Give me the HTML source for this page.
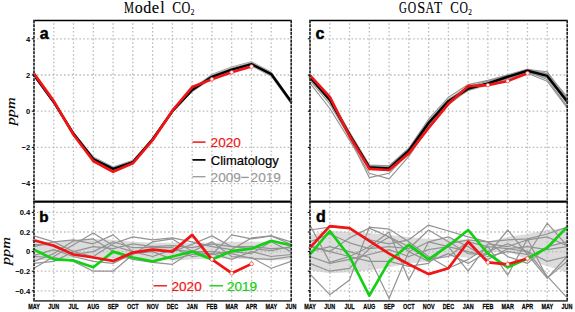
<!DOCTYPE html><html><head><meta charset="utf-8"><style>html,body{margin:0;padding:0;background:#fff;width:575px;height:312px;overflow:hidden}svg{display:block}</style></head><body>
<svg width="575" height="312" viewBox="0 0 575 312">
<rect width="575" height="312" fill="#fff"/>
<polygon fill="#dadada" points="34.0,72.8 53.8,100.0 73.5,131.7 93.3,156.8 113.1,166.8 132.8,160.1 152.6,137.1 172.4,109.0 192.2,87.9 211.9,74.6 231.7,67.4 251.5,62.0 271.2,71.9 291.0,99.4 291.0,103.4 271.2,75.9 251.5,66.0 231.7,71.4 211.9,78.6 192.2,91.8 172.4,113.0 152.6,141.1 132.8,164.1 113.1,170.7 93.3,160.8 73.5,135.6 53.8,104.0 34.0,76.8"/>
<g stroke="#bcbcbc" stroke-width="1.3" stroke-dasharray="1.6 2.255"><line x1="53.8" y1="23.2" x2="53.8" y2="201.7"/><line x1="73.5" y1="23.2" x2="73.5" y2="201.7"/><line x1="93.3" y1="23.2" x2="93.3" y2="201.7"/><line x1="113.1" y1="23.2" x2="113.1" y2="201.7"/><line x1="132.8" y1="23.2" x2="132.8" y2="201.7"/><line x1="152.6" y1="23.2" x2="152.6" y2="201.7"/><line x1="172.4" y1="23.2" x2="172.4" y2="201.7"/><line x1="192.2" y1="23.2" x2="192.2" y2="201.7"/><line x1="211.9" y1="23.2" x2="211.9" y2="201.7"/><line x1="231.7" y1="23.2" x2="231.7" y2="201.7"/><line x1="251.5" y1="23.2" x2="251.5" y2="201.7"/><line x1="271.2" y1="23.2" x2="271.2" y2="201.7"/><line x1="37.0" y1="38.8" x2="291.0" y2="38.8"/><line x1="37.0" y1="75.0" x2="291.0" y2="75.0"/><line x1="37.0" y1="111.2" x2="291.0" y2="111.2"/><line x1="37.0" y1="147.4" x2="291.0" y2="147.4"/><line x1="37.0" y1="183.6" x2="291.0" y2="183.6"/></g>
<polyline fill="none" stroke="#a4a4a4" stroke-width="1.0" stroke-linejoin="round" stroke-linecap="round" points="34.0,73.2 53.8,100.7 73.5,132.0 93.3,156.8 113.1,166.8 132.8,160.4 152.6,138.3 172.4,110.3 192.2,88.6 211.9,74.3 231.7,66.9 251.5,61.6 271.2,71.9 291.0,99.8"/>
<polyline fill="none" stroke="#a4a4a4" stroke-width="1.0" stroke-linejoin="round" stroke-linecap="round" points="34.0,76.4 53.8,103.1 73.5,134.9 93.3,160.4 113.1,170.7 132.8,163.7 152.6,140.3 172.4,112.1 192.2,91.8 211.9,78.6 231.7,71.4 251.5,66.0 271.2,76.3 291.0,103.8"/>
<polyline fill="none" stroke="#a4a4a4" stroke-width="1.0" stroke-linejoin="round" stroke-linecap="round" points="34.0,74.1 53.8,101.8 73.5,132.9 93.3,157.9 113.1,168.0 132.8,161.5 152.6,138.9 172.4,110.7 192.2,89.1 211.9,75.4 231.7,68.1 251.5,62.7 271.2,73.0 291.0,100.7"/>
<polyline fill="none" stroke="#a4a4a4" stroke-width="1.0" stroke-linejoin="round" stroke-linecap="round" points="34.0,75.4 53.8,101.6 73.5,134.2 93.3,159.5 113.1,168.6 132.8,162.8 152.6,139.6 172.4,110.8 192.2,90.9 211.9,77.5 231.7,70.1 251.5,64.9 271.2,75.2 291.0,102.5"/>
<polyline fill="none" stroke="#000" stroke-width="2.5" stroke-linejoin="round" stroke-linecap="round" points="34.0,75.0 53.8,102.2 73.5,133.8 93.3,159.0 113.1,168.9 132.8,162.2 152.6,139.3 172.4,111.2 192.2,90.0 211.9,76.8 231.7,69.6 251.5,64.1 271.2,74.1 291.0,101.6"/>
<polyline fill="none" stroke="#f01414" stroke-width="2.7" stroke-linejoin="round" stroke-linecap="round" points="34.0,73.6 53.8,101.1 73.5,134.7 93.3,161.0 113.1,171.7 132.8,163.3 152.6,140.2 172.4,110.7 192.2,87.1 211.9,79.2 231.7,72.3 251.5,66.5"/>
<circle cx="211.9" cy="79.2" r="1.9" fill="#fff" stroke="#f01414" stroke-width="0.6"/><circle cx="231.7" cy="72.3" r="1.9" fill="#fff" stroke="#f01414" stroke-width="0.6"/><circle cx="251.5" cy="66.5" r="1.9" fill="#fff" stroke="#f01414" stroke-width="0.6"/>
<polygon fill="#e4e4e4" points="310.0,74.5 329.8,97.3 349.5,132.0 369.3,164.6 389.1,165.7 408.8,148.1 428.6,120.2 448.4,98.5 468.2,85.9 487.9,80.8 507.7,74.1 527.5,67.9 547.2,73.2 567.0,98.5 567.0,104.0 547.2,78.6 527.5,73.4 507.7,79.5 487.9,86.2 468.2,91.3 448.4,104.0 428.6,125.7 408.8,153.6 389.1,171.1 369.3,170.0 349.5,137.4 329.8,102.7 310.0,79.9"/>
<g stroke="#bcbcbc" stroke-width="1.3" stroke-dasharray="1.6 2.255"><line x1="329.8" y1="23.2" x2="329.8" y2="201.7"/><line x1="349.5" y1="23.2" x2="349.5" y2="201.7"/><line x1="369.3" y1="23.2" x2="369.3" y2="201.7"/><line x1="389.1" y1="23.2" x2="389.1" y2="201.7"/><line x1="408.8" y1="23.2" x2="408.8" y2="201.7"/><line x1="428.6" y1="23.2" x2="428.6" y2="201.7"/><line x1="448.4" y1="23.2" x2="448.4" y2="201.7"/><line x1="468.2" y1="23.2" x2="468.2" y2="201.7"/><line x1="487.9" y1="23.2" x2="487.9" y2="201.7"/><line x1="507.7" y1="23.2" x2="507.7" y2="201.7"/><line x1="527.5" y1="23.2" x2="527.5" y2="201.7"/><line x1="547.2" y1="23.2" x2="547.2" y2="201.7"/><line x1="313.0" y1="38.8" x2="567.0" y2="38.8"/><line x1="313.0" y1="75.0" x2="567.0" y2="75.0"/><line x1="313.0" y1="111.2" x2="567.0" y2="111.2"/><line x1="313.0" y1="147.4" x2="567.0" y2="147.4"/><line x1="313.0" y1="183.6" x2="567.0" y2="183.6"/></g>
<polyline fill="none" stroke="#939393" stroke-width="1.15" stroke-linejoin="round" stroke-linecap="round" points="310.0,83.1 329.8,108.5 349.5,140.2 369.3,173.3 389.1,178.9 408.8,156.4 428.6,127.5 448.4,104.9 468.2,89.5 487.9,84.0 507.7,78.6 527.5,73.2 547.2,81.2 567.0,107.6"/>
<polyline fill="none" stroke="#939393" stroke-width="1.15" stroke-linejoin="round" stroke-linecap="round" points="310.0,80.4 329.8,104.0 349.5,137.4 369.3,177.6 389.1,173.3 408.8,152.8 428.6,125.7 448.4,103.1 468.2,87.7 487.9,83.1 507.7,77.7 527.5,71.4 547.2,79.5 567.0,105.8"/>
<polyline fill="none" stroke="#939393" stroke-width="1.15" stroke-linejoin="round" stroke-linecap="round" points="310.0,75.0 329.8,97.6 349.5,132.0 369.3,165.1 389.1,165.7 408.8,148.3 428.6,119.2 448.4,97.3 468.2,84.6 487.9,80.4 507.7,75.0 527.5,69.6 547.2,71.7 567.0,98.5"/>
<polyline fill="none" stroke="#939393" stroke-width="1.15" stroke-linejoin="round" stroke-linecap="round" points="310.0,75.9 329.8,98.9 349.5,132.9 369.3,165.5 389.1,166.4 408.8,149.2 428.6,121.2 448.4,99.4 468.2,86.8 487.9,81.3 507.7,75.4 527.5,69.2 547.2,74.1 567.0,100.0"/>
<polyline fill="none" stroke="#939393" stroke-width="1.15" stroke-linejoin="round" stroke-linecap="round" points="310.0,78.6 329.8,101.2 349.5,135.6 369.3,168.2 389.1,169.1 408.8,151.9 428.6,124.8 448.4,102.2 468.2,90.4 487.9,84.4 507.7,78.3 527.5,72.8 547.2,77.7 567.0,103.1"/>
<polyline fill="none" stroke="#939393" stroke-width="1.15" stroke-linejoin="round" stroke-linecap="round" points="310.0,77.7 329.8,100.3 349.5,134.7 369.3,167.3 389.1,170.9 408.8,151.0 428.6,123.9 448.4,101.2 468.2,88.6 487.9,83.1 507.7,76.8 527.5,70.5 547.2,73.2 567.0,96.7"/>
<polyline fill="none" stroke="#000" stroke-width="2.5" stroke-linejoin="round" stroke-linecap="round" points="310.0,77.2 329.8,100.0 349.5,134.7 369.3,167.3 389.1,168.4 408.8,150.8 428.6,123.0 448.4,101.2 468.2,88.6 487.9,83.5 507.7,76.8 527.5,70.7 547.2,75.9 567.0,101.2"/>
<polyline fill="none" stroke="#f01414" stroke-width="2.7" stroke-linejoin="round" stroke-linecap="round" points="310.0,75.4 329.8,96.9 349.5,136.0 369.3,168.9 389.1,170.0 408.8,153.4 428.6,128.0 448.4,103.8 468.2,86.2 487.9,85.1 507.7,81.0 527.5,73.2"/>
<circle cx="487.9" cy="85.1" r="1.9" fill="#fff" stroke="#f01414" stroke-width="0.6"/><circle cx="507.7" cy="81.0" r="1.9" fill="#fff" stroke="#f01414" stroke-width="0.6"/><circle cx="527.5" cy="73.2" r="1.9" fill="#fff" stroke="#f01414" stroke-width="0.6"/>
<polygon fill="#dcdcdc" points="34.0,241.8 53.8,241.8 73.5,239.8 93.3,238.9 113.1,239.8 132.8,241.8 152.6,242.8 172.4,242.8 192.2,242.8 211.9,242.8 231.7,241.8 251.5,241.8 271.2,241.8 291.0,242.8 291.0,259.4 271.2,260.4 251.5,259.4 231.7,258.5 211.9,258.5 192.2,259.4 172.4,260.4 152.6,259.4 132.8,259.4 113.1,258.5 93.3,256.5 73.5,257.5 53.8,259.4 34.0,260.4"/>
<g stroke="#bcbcbc" stroke-width="1.3" stroke-dasharray="1.6 2.255"><line x1="53.8" y1="202.7" x2="53.8" y2="300.9"/><line x1="73.5" y1="202.7" x2="73.5" y2="300.9"/><line x1="93.3" y1="202.7" x2="93.3" y2="300.9"/><line x1="113.1" y1="202.7" x2="113.1" y2="300.9"/><line x1="132.8" y1="202.7" x2="132.8" y2="300.9"/><line x1="152.6" y1="202.7" x2="152.6" y2="300.9"/><line x1="172.4" y1="202.7" x2="172.4" y2="300.9"/><line x1="192.2" y1="202.7" x2="192.2" y2="300.9"/><line x1="211.9" y1="202.7" x2="211.9" y2="300.9"/><line x1="231.7" y1="202.7" x2="231.7" y2="300.9"/><line x1="251.5" y1="202.7" x2="251.5" y2="300.9"/><line x1="271.2" y1="202.7" x2="271.2" y2="300.9"/><line x1="37.0" y1="212.4" x2="291.0" y2="212.4"/><line x1="37.0" y1="232.0" x2="291.0" y2="232.0"/><line x1="37.0" y1="251.6" x2="291.0" y2="251.6"/><line x1="37.0" y1="271.2" x2="291.0" y2="271.2"/><line x1="37.0" y1="290.8" x2="291.0" y2="290.8"/></g>
<polyline fill="none" stroke="#939393" stroke-width="1.2" stroke-linejoin="round" stroke-linecap="round" points="34.0,268.3 53.8,256.5 73.5,244.7 93.3,233.0 113.1,245.7 132.8,251.6 152.6,249.6 172.4,251.6 192.2,244.2 211.9,235.9 231.7,246.7 251.5,248.7 271.2,250.6 291.0,246.7"/>
<polyline fill="none" stroke="#939393" stroke-width="1.2" stroke-linejoin="round" stroke-linecap="round" points="34.0,246.7 53.8,241.8 73.5,239.8 93.3,243.8 113.1,234.9 132.8,251.6 152.6,256.5 172.4,249.6 192.2,251.6 211.9,254.5 231.7,234.9 251.5,238.9 271.2,235.9 291.0,244.2"/>
<polyline fill="none" stroke="#939393" stroke-width="1.2" stroke-linejoin="round" stroke-linecap="round" points="34.0,256.5 53.8,257.5 73.5,261.4 93.3,271.2 113.1,271.2 132.8,254.5 152.6,241.8 172.4,238.9 192.2,251.6 211.9,241.8 231.7,256.5 251.5,257.5 271.2,268.3 291.0,261.4"/>
<polyline fill="none" stroke="#939393" stroke-width="1.2" stroke-linejoin="round" stroke-linecap="round" points="34.0,261.4 53.8,253.6 73.5,240.8 93.3,238.9 113.1,251.6 132.8,259.4 152.6,262.4 172.4,264.3 192.2,251.6 211.9,251.6 231.7,253.6 251.5,258.5 271.2,259.4 291.0,256.5"/>
<polyline fill="none" stroke="#939393" stroke-width="1.2" stroke-linejoin="round" stroke-linecap="round" points="34.0,235.9 53.8,241.8 73.5,251.6 93.3,256.5 113.1,243.8 132.8,236.9 152.6,239.8 172.4,237.9 192.2,241.8 211.9,246.7 231.7,249.6 251.5,237.9 271.2,235.9 291.0,241.8"/>
<polyline fill="none" stroke="#939393" stroke-width="1.2" stroke-linejoin="round" stroke-linecap="round" points="34.0,244.7 53.8,244.7 73.5,254.5 93.3,251.6 113.1,241.8 132.8,247.7 152.6,247.7 172.4,247.7 192.2,256.5 211.9,254.5 231.7,251.6 251.5,253.6 271.2,241.8 291.0,251.6"/>
<polyline fill="none" stroke="#939393" stroke-width="1.2" stroke-linejoin="round" stroke-linecap="round" points="34.0,255.5 53.8,249.6 73.5,256.5 93.3,261.4 113.1,263.4 132.8,253.6 152.6,251.6 172.4,259.4 192.2,254.5 211.9,253.6 231.7,259.4 251.5,251.6 271.2,256.5 291.0,254.5"/>
<polyline fill="none" stroke="#939393" stroke-width="1.2" stroke-linejoin="round" stroke-linecap="round" points="34.0,263.4 53.8,261.4 73.5,251.6 93.3,246.7 113.1,248.7 132.8,243.8 152.6,246.7 172.4,245.7 192.2,247.7 211.9,243.8 231.7,246.7 251.5,246.7 271.2,248.7 291.0,247.7"/>
<polyline fill="none" stroke="#12d012" stroke-width="2.7" stroke-linejoin="round" stroke-linecap="round" points="34.0,249.6 53.8,259.4 73.5,260.4 93.3,267.3 113.1,251.6 132.8,257.5 152.6,261.4 172.4,256.5 192.2,251.6 211.9,259.4 231.7,251.1 251.5,248.7 271.2,240.8 291.0,245.2"/>
<polyline fill="none" stroke="#f01414" stroke-width="2.7" stroke-linejoin="round" stroke-linecap="round" points="34.0,240.3 53.8,245.7 73.5,254.5 93.3,257.5 113.1,260.9 132.8,252.6 152.6,249.6 172.4,251.6 192.2,234.9 211.9,259.4 231.7,273.2 251.5,263.9"/>
<circle cx="211.9" cy="259.4" r="1.9" fill="#fff" stroke="#f01414" stroke-width="0.6"/><circle cx="231.7" cy="273.2" r="1.9" fill="#fff" stroke="#f01414" stroke-width="0.6"/><circle cx="251.5" cy="263.9" r="1.9" fill="#fff" stroke="#f01414" stroke-width="0.6"/>
<polygon fill="#dcdcdc" points="310.0,234.9 329.8,231.0 349.5,232.0 369.3,233.0 389.1,234.9 408.8,236.9 428.6,238.9 448.4,238.9 468.2,239.8 487.9,241.8 507.7,236.9 527.5,234.0 547.2,230.0 567.0,228.1 567.0,272.2 547.2,266.3 527.5,259.4 507.7,251.6 487.9,252.6 468.2,257.5 448.4,256.5 428.6,261.4 408.8,263.4 389.1,267.3 369.3,270.2 349.5,272.2 329.8,273.2 310.0,270.2"/>
<g stroke="#bcbcbc" stroke-width="1.3" stroke-dasharray="1.6 2.255"><line x1="329.8" y1="202.7" x2="329.8" y2="300.9"/><line x1="349.5" y1="202.7" x2="349.5" y2="300.9"/><line x1="369.3" y1="202.7" x2="369.3" y2="300.9"/><line x1="389.1" y1="202.7" x2="389.1" y2="300.9"/><line x1="408.8" y1="202.7" x2="408.8" y2="300.9"/><line x1="428.6" y1="202.7" x2="428.6" y2="300.9"/><line x1="448.4" y1="202.7" x2="448.4" y2="300.9"/><line x1="468.2" y1="202.7" x2="468.2" y2="300.9"/><line x1="487.9" y1="202.7" x2="487.9" y2="300.9"/><line x1="507.7" y1="202.7" x2="507.7" y2="300.9"/><line x1="527.5" y1="202.7" x2="527.5" y2="300.9"/><line x1="547.2" y1="202.7" x2="547.2" y2="300.9"/><line x1="313.0" y1="212.4" x2="567.0" y2="212.4"/><line x1="313.0" y1="232.0" x2="567.0" y2="232.0"/><line x1="313.0" y1="251.6" x2="567.0" y2="251.6"/><line x1="313.0" y1="271.2" x2="567.0" y2="271.2"/><line x1="313.0" y1="290.8" x2="567.0" y2="290.8"/></g>
<polyline fill="none" stroke="#939393" stroke-width="1.2" stroke-linejoin="round" stroke-linecap="round" points="310.0,225.1 329.8,262.4 349.5,256.5 369.3,246.7 389.1,232.0 408.8,280.0 428.6,241.8 448.4,246.7 468.2,271.2 487.9,243.8 507.7,246.7 527.5,239.8 547.2,236.9 567.0,245.7"/>
<polyline fill="none" stroke="#939393" stroke-width="1.2" stroke-linejoin="round" stroke-linecap="round" points="310.0,230.0 329.8,227.1 349.5,228.1 369.3,239.8 389.1,243.8 408.8,239.8 428.6,225.1 448.4,231.0 468.2,236.9 487.9,241.8 507.7,239.8 527.5,238.9 547.2,234.0 567.0,227.1"/>
<polyline fill="none" stroke="#939393" stroke-width="1.2" stroke-linejoin="round" stroke-linecap="round" points="310.0,241.8 329.8,234.0 349.5,242.8 369.3,248.7 389.1,246.7 408.8,248.7 428.6,230.0 448.4,241.8 468.2,253.6 487.9,254.5 507.7,230.0 527.5,254.5 547.2,278.1 567.0,256.5"/>
<polyline fill="none" stroke="#939393" stroke-width="1.2" stroke-linejoin="round" stroke-linecap="round" points="310.0,274.1 329.8,294.7 349.5,280.0 369.3,227.1 389.1,229.1 408.8,241.8 428.6,256.5 448.4,268.3 468.2,259.4 487.9,246.7 507.7,275.1 527.5,238.9 547.2,278.1 567.0,261.4"/>
<polyline fill="none" stroke="#939393" stroke-width="1.2" stroke-linejoin="round" stroke-linecap="round" points="310.0,256.5 329.8,263.4 349.5,259.4 369.3,254.5 389.1,249.6 408.8,256.5 428.6,249.6 448.4,246.7 468.2,251.6 487.9,256.5 507.7,251.6 527.5,254.5 547.2,223.2 567.0,245.7"/>
<polyline fill="none" stroke="#939393" stroke-width="1.2" stroke-linejoin="round" stroke-linecap="round" points="310.0,263.4 329.8,271.2 349.5,268.3 369.3,248.7 389.1,236.9 408.8,246.7 428.6,259.4 448.4,256.5 468.2,241.8 487.9,246.7 507.7,248.7 527.5,251.6 547.2,276.1 567.0,297.7"/>
<polyline fill="none" stroke="#939393" stroke-width="1.2" stroke-linejoin="round" stroke-linecap="round" points="310.0,246.7 329.8,251.6 349.5,237.9 369.3,228.1 389.1,236.9 408.8,251.6 428.6,241.8 448.4,236.9 468.2,246.7 487.9,259.4 507.7,248.7 527.5,246.7 547.2,249.6 567.0,246.7"/>
<polyline fill="none" stroke="#939393" stroke-width="1.2" stroke-linejoin="round" stroke-linecap="round" points="310.0,251.6 329.8,246.7 349.5,251.6 369.3,257.5 389.1,298.6 408.8,251.6 428.6,261.4 448.4,253.6 468.2,263.4 487.9,251.6 507.7,243.8 527.5,251.6 547.2,261.4 567.0,256.5"/>
<polyline fill="none" stroke="#939393" stroke-width="1.2" stroke-linejoin="round" stroke-linecap="round" points="310.0,245.7 329.8,251.6 349.5,256.5 369.3,261.4 389.1,261.4 408.8,266.3 428.6,263.4 448.4,243.8 468.2,239.8 487.9,241.8 507.7,256.5 527.5,263.4 547.2,246.7 567.0,241.8"/>
<polyline fill="none" stroke="#12d012" stroke-width="2.7" stroke-linejoin="round" stroke-linecap="round" points="310.0,254.5 329.8,231.0 349.5,256.5 369.3,295.7 389.1,261.4 408.8,244.7 428.6,259.4 448.4,245.7 468.2,230.0 487.9,253.6 507.7,267.3 527.5,258.5 547.2,247.7 567.0,227.1"/>
<polyline fill="none" stroke="#f01414" stroke-width="2.7" stroke-linejoin="round" stroke-linecap="round" points="310.0,247.7 329.8,226.1 349.5,228.1 369.3,240.8 389.1,253.6 408.8,264.3 428.6,274.1 448.4,268.3 468.2,241.8 487.9,262.4 507.7,264.3 527.5,258.5"/>
<circle cx="487.9" cy="262.4" r="1.9" fill="#fff" stroke="#f01414" stroke-width="0.6"/><circle cx="507.7" cy="264.3" r="1.9" fill="#fff" stroke="#f01414" stroke-width="0.6"/><circle cx="527.5" cy="258.5" r="1.9" fill="#fff" stroke="#f01414" stroke-width="0.6"/>
<line x1="33.2" y1="20.5" x2="291.8" y2="20.5" stroke="#000" stroke-width="1.7"/>
<line x1="33.2" y1="201.7" x2="291.8" y2="201.7" stroke="#000" stroke-width="1.7"/>
<g stroke="#b8b8b8" stroke-width="1.2"><line x1="34.0" y1="20.5" x2="34.0" y2="201.7"/><line x1="291.2" y1="20.5" x2="291.2" y2="201.7"/></g>
<g stroke="#111" stroke-width="1.45" stroke-dasharray="2.7 1.15"><line x1="34.0" y1="20.5" x2="34.0" y2="201.7"/><line x1="291.2" y1="20.5" x2="291.2" y2="201.7"/></g>
<line x1="33.2" y1="201.7" x2="291.8" y2="201.7" stroke="#000" stroke-width="1.7"/>
<line x1="33.2" y1="300.9" x2="291.8" y2="300.9" stroke="#4a4a4a" stroke-width="1.6"/>
<g stroke="#b8b8b8" stroke-width="1.2"><line x1="34.0" y1="201.7" x2="34.0" y2="300.9"/><line x1="291.2" y1="201.7" x2="291.2" y2="300.9"/></g>
<g stroke="#111" stroke-width="1.45" stroke-dasharray="2.7 1.15"><line x1="34.0" y1="201.7" x2="34.0" y2="300.9"/><line x1="291.2" y1="201.7" x2="291.2" y2="300.9"/></g>
<line x1="309.2" y1="20.5" x2="567.8" y2="20.5" stroke="#000" stroke-width="1.7"/>
<line x1="309.2" y1="201.7" x2="567.8" y2="201.7" stroke="#000" stroke-width="1.7"/>
<g stroke="#b8b8b8" stroke-width="1.2"><line x1="310.0" y1="20.5" x2="310.0" y2="201.7"/><line x1="567.2" y1="20.5" x2="567.2" y2="201.7"/></g>
<g stroke="#111" stroke-width="1.45" stroke-dasharray="2.7 1.15"><line x1="310.0" y1="20.5" x2="310.0" y2="201.7"/><line x1="567.2" y1="20.5" x2="567.2" y2="201.7"/></g>
<line x1="309.2" y1="201.7" x2="567.8" y2="201.7" stroke="#000" stroke-width="1.7"/>
<line x1="309.2" y1="300.9" x2="567.8" y2="300.9" stroke="#4a4a4a" stroke-width="1.6"/>
<g stroke="#b8b8b8" stroke-width="1.2"><line x1="310.0" y1="201.7" x2="310.0" y2="300.9"/><line x1="567.2" y1="201.7" x2="567.2" y2="300.9"/></g>
<g stroke="#111" stroke-width="1.45" stroke-dasharray="2.7 1.15"><line x1="310.0" y1="201.7" x2="310.0" y2="300.9"/><line x1="567.2" y1="201.7" x2="567.2" y2="300.9"/></g>
<g stroke="#000" stroke-width="1"><line x1="31.8" y1="38.8" x2="34" y2="38.8"/><line x1="307.8" y1="38.8" x2="310" y2="38.8"/><line x1="31.8" y1="75.0" x2="34" y2="75.0"/><line x1="307.8" y1="75.0" x2="310" y2="75.0"/><line x1="31.8" y1="111.2" x2="34" y2="111.2"/><line x1="307.8" y1="111.2" x2="310" y2="111.2"/><line x1="31.8" y1="147.4" x2="34" y2="147.4"/><line x1="307.8" y1="147.4" x2="310" y2="147.4"/><line x1="31.8" y1="183.6" x2="34" y2="183.6"/><line x1="307.8" y1="183.6" x2="310" y2="183.6"/><line x1="31.8" y1="212.4" x2="34" y2="212.4"/><line x1="307.8" y1="212.4" x2="310" y2="212.4"/><line x1="31.8" y1="232.0" x2="34" y2="232.0"/><line x1="307.8" y1="232.0" x2="310" y2="232.0"/><line x1="31.8" y1="251.6" x2="34" y2="251.6"/><line x1="307.8" y1="251.6" x2="310" y2="251.6"/><line x1="31.8" y1="271.2" x2="34" y2="271.2"/><line x1="307.8" y1="271.2" x2="310" y2="271.2"/><line x1="31.8" y1="290.8" x2="34" y2="290.8"/><line x1="307.8" y1="290.8" x2="310" y2="290.8"/></g>
<line x1="192.5" y1="142.1" x2="205.5" y2="142.1" stroke="#f01414" stroke-width="1.5"/>
<line x1="192.5" y1="159.9" x2="205.5" y2="159.9" stroke="#000" stroke-width="1.7"/>
<line x1="192.5" y1="176.7" x2="205.5" y2="176.7" stroke="#a0a0a0" stroke-width="1.4"/>
<line x1="153.5" y1="285.8" x2="167" y2="285.8" stroke="#f01414" stroke-width="1.4"/>
<line x1="209.5" y1="285.8" x2="223" y2="285.8" stroke="#12d012" stroke-width="1.4"/>
<g font-family="Liberation Serif" font-size="16" fill="#000" text-anchor="middle" stroke="#000" stroke-width="0.12"><g transform="translate(128.90,12.9) scale(0.70,1)"><text x="0" y="0">M</text></g><g transform="translate(138.65,12.9) scale(1.00,1)"><text x="0" y="0">o</text></g><g transform="translate(147.15,12.9) scale(1.00,1)"><text x="0" y="0">d</text></g><g transform="translate(155.30,12.9) scale(1.03,1)"><text x="0" y="0">e</text></g><g transform="translate(162.35,12.9) scale(1.00,1)"><text x="0" y="0">l</text></g><g transform="translate(176.60,12.9) scale(0.83,1)"><text x="0" y="0">C</text></g><g transform="translate(186.00,12.9) scale(0.76,1)"><text x="0" y="0">O</text></g><g transform="translate(402.85,12.9) scale(0.68,1)"><text x="0" y="0">G</text></g><g transform="translate(412.05,12.9) scale(0.73,1)"><text x="0" y="0">O</text></g><g transform="translate(421.10,12.9) scale(0.89,1)"><text x="0" y="0">S</text></g><g transform="translate(429.80,12.9) scale(0.75,1)"><text x="0" y="0">A</text></g><g transform="translate(438.10,12.9) scale(0.84,1)"><text x="0" y="0">T</text></g><g transform="translate(454.60,12.9) scale(0.80,1)"><text x="0" y="0">C</text></g><g transform="translate(463.65,12.9) scale(0.73,1)"><text x="0" y="0">O</text></g><text x="192.6" y="14.6" font-size="7.2" stroke-width="0.1">2</text><text x="470.1" y="14.6" font-size="7.2" stroke-width="0.1">2</text></g>
<text x="39.70" y="38.60" font-family="Liberation Sans" font-size="16.00" font-weight="bold" fill="#000" text-anchor="start" stroke="#000" stroke-width="0.45" >a</text>
<text x="39.20" y="221.90" font-family="Liberation Sans" font-size="15.20" font-weight="bold" fill="#000" text-anchor="start" stroke="#000" stroke-width="0.50" >b</text>
<text x="315.40" y="38.70" font-family="Liberation Sans" font-size="16.00" font-weight="bold" fill="#000" text-anchor="start" stroke="#000" stroke-width="0.45" >c</text>
<text x="316.00" y="222.00" font-family="Liberation Sans" font-size="16.00" font-weight="bold" fill="#000" text-anchor="start" stroke="#000" stroke-width="0.45" >d</text>
<text transform="translate(15.1,111.35) rotate(-90) scale(1.2,1)" x="0" y="0" font-family="Liberation Serif" font-style="italic" font-size="13.5" text-anchor="middle" stroke="#000" stroke-width="0.12">ppm</text>
<text transform="translate(9.5,251.1) rotate(-90) scale(1.2,1)" x="0" y="0" font-family="Liberation Serif" font-style="italic" font-size="13.5" text-anchor="middle" stroke="#000" stroke-width="0.12">ppm</text>
<text x="30.20" y="41.60" font-family="Liberation Sans" font-size="7.60" font-weight="bold" fill="#000" text-anchor="end" >4</text>
<text x="30.20" y="77.80" font-family="Liberation Sans" font-size="7.60" font-weight="bold" fill="#000" text-anchor="end" >2</text>
<text x="30.20" y="114.00" font-family="Liberation Sans" font-size="7.60" font-weight="bold" fill="#000" text-anchor="end" >0</text>
<text x="30.20" y="150.20" font-family="Liberation Sans" font-size="7.60" font-weight="bold" fill="#000" text-anchor="end" >−2</text>
<text x="30.20" y="186.40" font-family="Liberation Sans" font-size="7.60" font-weight="bold" fill="#000" text-anchor="end" >−4</text>
<text x="30.20" y="215.20" font-family="Liberation Sans" font-size="7.60" font-weight="bold" fill="#000" text-anchor="end" >0.4</text>
<text x="30.20" y="234.80" font-family="Liberation Sans" font-size="7.60" font-weight="bold" fill="#000" text-anchor="end" >0.2</text>
<text x="30.20" y="254.40" font-family="Liberation Sans" font-size="7.60" font-weight="bold" fill="#000" text-anchor="end" >0</text>
<text x="30.20" y="274.00" font-family="Liberation Sans" font-size="7.60" font-weight="bold" fill="#000" text-anchor="end" >−0.2</text>
<text x="30.20" y="293.60" font-family="Liberation Sans" font-size="7.60" font-weight="bold" fill="#000" text-anchor="end" >−0.4</text>
<g font-family="Liberation Sans" font-size="8" font-weight="bold" text-anchor="middle" fill="#000" stroke="#000" stroke-width="0.25"><g transform="translate(34.00,309.4) scale(0.68,1)"><text x="0" y="0">MAY</text></g><g transform="translate(53.77,309.4) scale(0.68,1)"><text x="0" y="0">JUN</text></g><g transform="translate(73.54,309.4) scale(0.68,1)"><text x="0" y="0">JUL</text></g><g transform="translate(93.31,309.4) scale(0.68,1)"><text x="0" y="0">AUG</text></g><g transform="translate(113.08,309.4) scale(0.68,1)"><text x="0" y="0">SEP</text></g><g transform="translate(132.85,309.4) scale(0.68,1)"><text x="0" y="0">OCT</text></g><g transform="translate(152.62,309.4) scale(0.68,1)"><text x="0" y="0">NOV</text></g><g transform="translate(172.38,309.4) scale(0.68,1)"><text x="0" y="0">DEC</text></g><g transform="translate(192.15,309.4) scale(0.68,1)"><text x="0" y="0">JAN</text></g><g transform="translate(211.92,309.4) scale(0.68,1)"><text x="0" y="0">FEB</text></g><g transform="translate(231.69,309.4) scale(0.68,1)"><text x="0" y="0">MAR</text></g><g transform="translate(251.46,309.4) scale(0.68,1)"><text x="0" y="0">APR</text></g><g transform="translate(271.23,309.4) scale(0.68,1)"><text x="0" y="0">MAY</text></g><g transform="translate(291.00,309.4) scale(0.68,1)"><text x="0" y="0">JUN</text></g><g transform="translate(310.00,309.4) scale(0.68,1)"><text x="0" y="0">MAY</text></g><g transform="translate(329.77,309.4) scale(0.68,1)"><text x="0" y="0">JUN</text></g><g transform="translate(349.54,309.4) scale(0.68,1)"><text x="0" y="0">JUL</text></g><g transform="translate(369.31,309.4) scale(0.68,1)"><text x="0" y="0">AUG</text></g><g transform="translate(389.08,309.4) scale(0.68,1)"><text x="0" y="0">SEP</text></g><g transform="translate(408.85,309.4) scale(0.68,1)"><text x="0" y="0">OCT</text></g><g transform="translate(428.62,309.4) scale(0.68,1)"><text x="0" y="0">NOV</text></g><g transform="translate(448.38,309.4) scale(0.68,1)"><text x="0" y="0">DEC</text></g><g transform="translate(468.15,309.4) scale(0.68,1)"><text x="0" y="0">JAN</text></g><g transform="translate(487.92,309.4) scale(0.68,1)"><text x="0" y="0">FEB</text></g><g transform="translate(507.69,309.4) scale(0.68,1)"><text x="0" y="0">MAR</text></g><g transform="translate(527.46,309.4) scale(0.68,1)"><text x="0" y="0">APR</text></g><g transform="translate(547.23,309.4) scale(0.68,1)"><text x="0" y="0">MAY</text></g><g transform="translate(567.00,309.4) scale(0.68,1)"><text x="0" y="0">JUN</text></g></g>
<text x="210.60" y="147.40" font-family="Liberation Sans" font-size="13.60" font-weight="normal" fill="#f01414" text-anchor="start" stroke="#f01414" stroke-width="0.15" >2020</text>
<text x="210.80" y="164.70" font-family="Liberation Sans" font-size="13.00" font-weight="normal" fill="#000" text-anchor="start" stroke="#000" stroke-width="0.20" >Climatology</text>
<text x="210.60" y="182.00" font-family="Liberation Sans" font-size="13.60" font-weight="normal" fill="#999" text-anchor="start" stroke="#999" stroke-width="0.15" >2009</text>
<line x1="241.2" y1="177.4" x2="248.8" y2="177.4" stroke="#999" stroke-width="1.4"/>
<text x="250.60" y="182.00" font-family="Liberation Sans" font-size="13.60" font-weight="normal" fill="#999" text-anchor="start" stroke="#999" stroke-width="0.15" >2019</text>
<text x="171.50" y="290.60" font-family="Liberation Sans" font-size="13.60" font-weight="normal" fill="#f01414" text-anchor="start" stroke="#f01414" stroke-width="0.20" >2020</text>
<text x="226.90" y="290.60" font-family="Liberation Sans" font-size="13.60" font-weight="normal" fill="#12d012" text-anchor="start" stroke="#12d012" stroke-width="0.20" >2019</text>
</svg>
</body></html>
